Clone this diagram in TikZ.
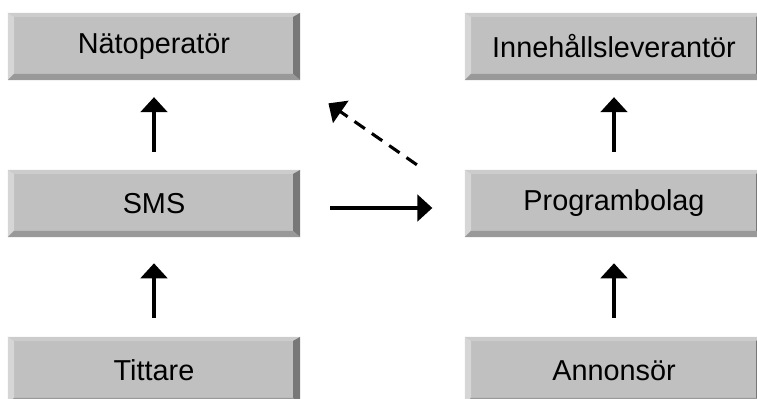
\documentclass[tikz,border=0pt]{standalone}
\usepackage{fontspec}
\setmainfont{Liberation Sans}
\usetikzlibrary{arrows.meta}
\definecolor{knappgrund}{gray}{0.753}
\definecolor{knapptopp}{gray}{0.80}
\definecolor{knappvanster}{gray}{0.84}
\definecolor{knapphoger}{gray}{0.47}
\definecolor{knappbotten}{gray}{0.60}
\tikzset{
  knapp/.style={fill=knappgrund, minimum height=1.675cm, inner sep=0pt,
    font=\fontsize{20.5}{24}\selectfont,
    path picture={
      \path (path picture bounding box.north west) coordinate (bnw)
            (path picture bounding box.north east) coordinate (bne)
            (path picture bounding box.south west) coordinate (bsw)
            (path picture bounding box.south east) coordinate (bse);
      \fill[knapptopp] (bnw) -- (bne) -- ([xshift=-5pt,yshift=-2.8pt]bne) -- ([xshift=4.3pt,yshift=-2.8pt]bnw) -- cycle;
      \fill[knappvanster] (bnw) -- ([xshift=4.3pt,yshift=-2.8pt]bnw) -- ([xshift=4.3pt,yshift=4.3pt]bsw) -- (bsw) -- cycle;
      \fill[knapphoger] (bne) -- (bse) -- ([xshift=-5pt,yshift=4.3pt]bse) -- ([xshift=-5pt,yshift=-2.8pt]bne) -- cycle;
      \fill[knappbotten] (bsw) -- (bse) -- ([xshift=-5pt,yshift=4.3pt]bse) -- ([xshift=4.3pt,yshift=4.3pt]bsw) -- cycle;
    }},
  vkol/.style={knapp, minimum width=7.3cm},
  hkol/.style={knapp, minimum width=7.45cm},
  pil/.style={line width=2.2pt, -{Triangle[length=10.7pt,width=19pt]}}
}
\begin{document}
\begin{tikzpicture}[x=0.025cm,y=-0.025cm]
  \useasboundingbox (0,0) rectangle (757,399);
  \clip (0,0) rectangle (757,399);
  % vänster kolumn
  \node[vkol] (natop) at (154,46.5) {Nätoperatör};
  \node[vkol] (sms) at (154,203.5) {SMS};
  \node[vkol] (tittare) at (154,370.5) {Tittare};
  % höger kolumn
  \node[hkol] (innehall) at (614,46.5) {Innehållsleverantör};
  \node[hkol] (progbol) at (614,203.5) {Programbolag};
  \node[hkol] (annons) at (614,370.5) {Annonsör};
  % pilar
  \draw[pil, shorten <=13.5pt, shorten >=18.5pt] (tittare) -- (sms);
  \draw[pil, shorten <=12.8pt, shorten >=12pt] (sms) -- (natop);
  \draw[pil, shorten <=13.5pt, shorten >=18.5pt] (annons) -- (progbol);
  \draw[pil, shorten <=12.8pt, shorten >=12pt] (progbol) -- (innehall);
  \draw[pil, shorten <=21pt, shorten >=23pt] ([yshift=-3.2pt]sms.east) -- ([yshift=-3.2pt]progbol.west);
  \draw[pil, dash pattern=on 9pt off 6pt] ([xshift=-34pt,yshift=3.5pt]progbol.north west) -- ([xshift=20pt,yshift=-16.4pt]natop.south east);
\end{tikzpicture}
\end{document}
